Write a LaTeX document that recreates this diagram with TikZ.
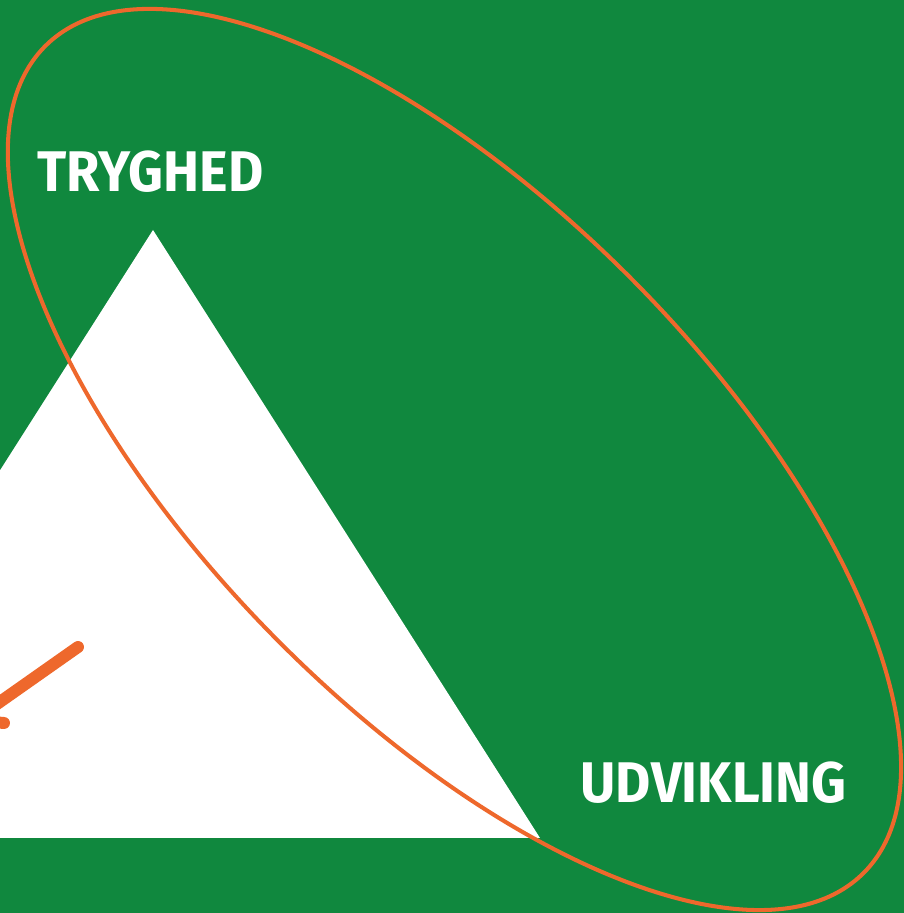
\documentclass[tikz,border=0pt]{standalone}
\usepackage{fontspec}
\setmainfont{Fira Sans}
\usepackage{tikz}
\usetikzlibrary{positioning, calc}
\definecolor{cGreen}{RGB}{16,136,62}
\definecolor{cOrange}{RGB}{238,104,44}
\newcommand{\narrowword}[1]{\scalebox{0.945}[1]{#1}}
\tikzset{
	bigword/.style={text=white, inner sep=0pt, font=\fontsize{16.3}{18}\selectfont\bfseries},
	ring/.style={draw=cOrange, line width=1.15pt},
	stroke/.style={draw=cOrange, line width=3.4pt, line cap=round},
}
\begin{document}
\begin{tikzpicture}[x=0.01cm, y=0.01cm]
	\useasboundingbox (0,0) rectangle (904,913);
	\fill[cGreen] (0,0) rectangle (904,913);
	% white triangle, left corner off the page
	\begin{scope}
		\clip (0,0) rectangle (904,913);
		\fill[white] (153,683) -- (540,75) -- (-234,75) -- cycle;
		% orange strokes at the left edge
		\coordinate (s1) at (78,266);
		\coordinate (s2) at (-30,190);
		\coordinate (t1) at (-20,192);
		\coordinate (t2) at (4,190);
		\draw[stroke] (s1) -- (s2);
		\draw[stroke] (t1) -- (t2);
	\end{scope}
	% the ring
	\coordinate (c) at (454.5,453.5);
	\draw[ring, rotate around={-45.37:(c)}] (c) ellipse [x radius=581.7, y radius=252.9];
	% words
	\node[bigword, anchor=base west] (tryg) at (37,721) {\narrowword{TRYGHED}};
	\node[bigword, anchor=base west] (udv) at (580,110) {\narrowword{UDVIKLING}};
\end{tikzpicture}
\end{document}
